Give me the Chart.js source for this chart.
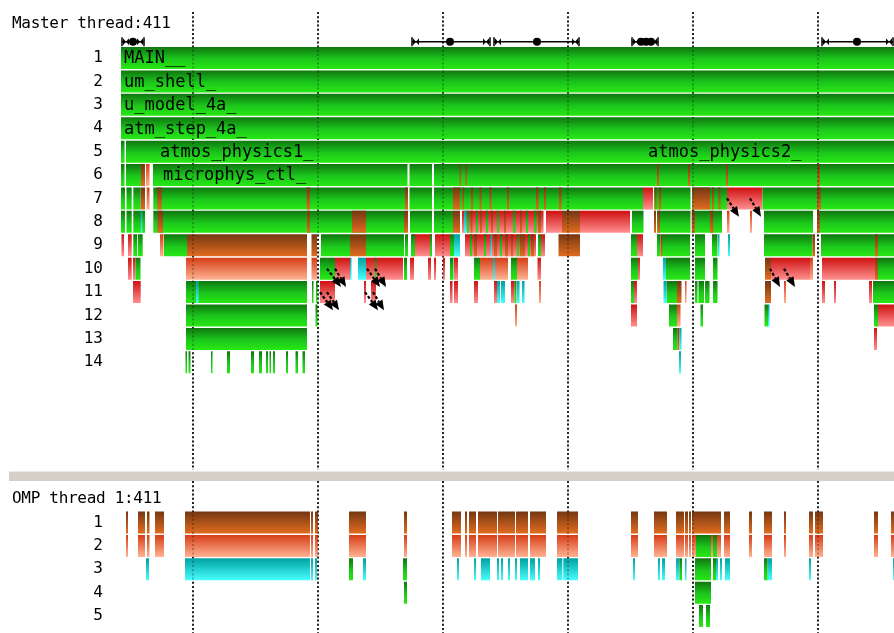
<!DOCTYPE html>
<html><head><meta charset="utf-8">
<script src="https://cdn.jsdelivr.net/npm/chart.js@4.4.1/dist/chart.umd.min.js"></script>
<style>
html,body{margin:0;padding:0;background:#fff;}
#wrap{position:relative;width:894px;height:633px;overflow:hidden;background:#fff;}
canvas{position:absolute;left:0;}
.ttl{position:absolute;left:12px;font-family:'DejaVu Sans Mono',monospace;font-size:16px;line-height:16px;letter-spacing:-0.3px;color:#000;white-space:nowrap;}
#sep{position:absolute;left:9px;top:471px;width:885px;height:10px;background:#d4d0c8;border-top:1px solid #ebe9e4;box-sizing:border-box;}
</style></head>
<body><div id="wrap">
<canvas id="c1" width="894" height="470" style="top:0;width:894px;height:470px"></canvas>
<div id="sep"></div>
<canvas id="c2" width="894" height="152" style="top:481px;width:894px;height:152px"></canvas>
<div class="ttl" style="top:15px">Master thread:411</div>
<div class="ttl" style="top:490px">OMP thread 1:411</div>
</div>
<script>
// ---------- categories / ticks ----------
const masterRows = ['1','2','3','4','5','6','7','8','9','10','11','12','13','14'];
const ompRows = ['1','2','3','4','5'];
const timeMin = 121, timeMax = 894;
const timeGrid = [193, 318, 443, 568, 693, 818];

// ---------- master thread series: [row, start, end] ----------
const masterGreen = [
 [1,121,894],[2,121,894],[3,121,894],[4,121,894],
 [5,121,124.5],[5,126,894],
 [6,121,124.5],[6,126,141],[6,153,407.5],[6,409.5,432],[6,434,894],
 [7,121,125],[7,126.5,131.7],[7,133.3,140.7],[7,153.3,407.5],[7,409.5,432],[7,434,643],[7,654,690.5],[7,692,727],[7,762.5,894],
 [8,121,125],[8,126.5,131.7],[8,133.3,145],[8,153.3,404],[8,410,432],[8,434,453],[8,632,643.5],[8,657,690.5],[8,692,722],[8,764,813],[8,820,894],
 [8,467,469],[8,476,478],[8,486,488],[8,497,499],[8,513,515.5],[8,526,528],[8,534,536.5],
 [9,133.3,137],[9,137.8,142.7],[9,164,187],[9,321,350],[9,366,404],[9,405,408],[9,411,415],[9,430,432],[9,450,454],[9,538,541],[9,631,637],[9,657,660.5],[9,662,690],[9,695,705],[9,712,717.5],[9,764,812.5],[9,821,894],
 [9,470,472],[9,484,486],[9,500,502],[9,517,519],[9,528,530],
 [10,135.5,140.5],[10,320,335],[10,375,376.5],[10,404,407],[10,450,453.5],[10,474,480],[10,511,517],[10,631,638],[10,666,690],[10,695,705],[10,713,717.5],[10,878,894],
 [11,186,307],[11,312,313.5],[11,316,317.5],[11,514.5,516.5],[11,631,634],[11,666.5,677],[11,695,697.5],[11,698.5,704],[11,705,709.5],[11,713,717.5],[11,873,894],
 [12,186,307],[12,315.5,317.5],[12,669,677],[12,700.5,703],[12,764.5,768],[12,874,878],
 [13,186,307],[13,673,677.5],
 [14,185.5,187],[14,188.5,190.5],[14,211,212.5],[14,227,230],[14,251,254],[14,259,262],[14,266,268],[14,269.5,271],[14,273,275],[14,286,288],[14,295.5,298],[14,302.5,305]
];
const masterRed = [
 [7,643,653],[7,727,762.5],
 [8,462,543.5],[8,546,562],[8,580,630],
 [9,121.5,124],[9,128,131.7],[9,412,432],[9,435,450],[9,465,536],[9,541,545],[9,637,643],
 [10,128,131.7],[10,133,135.5],[10,335,350],[10,366,403],[10,410,414],[10,428,431],[10,434,436],[10,443,445],[10,454,458],[10,537.5,541],[10,638,640],[10,771,810],[10,822,875],
 [11,133,140.7],[11,320,335],[11,364,366],[11,371,376],[11,450,452.5],[11,454,458],[11,474,478],[11,494,497],[11,511,514.5],[11,634,637],[11,822,825],[11,834,836],[11,869,872],
 [12,631,637],[12,878,894],
 [13,874,877]
];
const masterBrown = [
 [6,141,145],[6,459.5,461],[6,465.5,467],[6,657,659],[6,688,690],[6,726,728],[6,817.5,820],
 [7,140.7,145],[7,157.3,161.7],[7,306.7,310],[7,405,408],[7,453,460],[7,462.5,464],[7,471,473],[7,479.5,481.5],[7,489.5,491.5],[7,507,509],[7,536,538.5],[7,544,546],[7,559,561.5],[7,655,656.5],[7,659,661],[7,692.5,710],[7,712,714],[7,718.5,720.5],[7,817,821],
 [8,157.5,163],[8,307,310],[8,352,366],[8,404,408],[8,453,460],[8,470.5,472.5],[8,480,482],[8,491,493],[8,504,506],[8,520,522],[8,538,541],[8,562,580],[8,654,656],[8,657.5,660],[8,691.7,695],[8,710,713.3],[8,817,820],
 [9,187,307],[9,311.5,317],[9,350,366],[9,474,477],[9,494,497],[9,505,508],[9,511,513],[9,520,525],[9,531,534],[9,558.5,580],[9,660.5,662.3],[9,812.5,815],[9,875,878],
 [10,765,771],[10,875,878],
 [11,677,681.5],[11,765,771],
 [13,677.5,679.5]
];
const masterOrange = [
 [6,146,149.5],[7,146.7,149.5],[8,727,729.5],[8,750,752],[9,160,163.5],
 [10,186,307],[10,311.5,317],[10,480,493],[10,495,508],[10,517,528],[10,810,813],
 [11,539,541],[11,685,686.5],[11,784,786],
 [12,515,517],[12,677,680.5]
];
const masterCyan = [
 [8,140.7,142.3],[8,464,466.5],
 [9,454,460],[9,490.5,492],[9,718,719.5],[9,728,730],
 [10,350,351.5],[10,358,366],[10,493,495],[10,663,666],
 [11,196,198.5],[11,497,500],[11,501,505],[11,517,519.5],[11,522,524.5],[11,663.5,666.5],
 [12,768,769.5],[13,679.5,681.5],[14,679,681]
];

// ---------- OMP thread 1 series ----------
const ompBrown = [
 [1,126,128],[1,138,145],[1,147,149.5],[1,155,164],[1,185,310],[1,311,313],[1,315,318],[1,349,366],[1,404,407],
 [1,452,461],[1,465,467],[1,469,476],[1,478,497],[1,498,515],[1,516,528],[1,530,546],[1,557,578],[1,631,638],
 [1,654,667],[1,676,684],[1,685,688],[1,689,691],[1,692,721],[1,724,730],[1,749,752],[1,764,772],[1,784,786],
 [1,809,813],[1,815,823],[1,874,878],[1,891,894]
];
const ompOrange = [
 [2,126,128],[2,138,145],[2,147,149.5],[2,155,164],[2,185,310],[2,311,313],[2,315,318],[2,349,366],[2,404,407],
 [2,452,461],[2,465,467],[2,469,476],[2,478,497],[2,498,515],[2,516,528],[2,530,546],[2,557,578],[2,631,638],
 [2,654,667],[2,676,684],[2,685,688],[2,689,691],[2,692,696],[2,711,713],[2,717,721],[2,724,730],[2,749,752],
 [2,764,772],[2,784,786],[2,809,813],[2,815,823],[2,874,878],[2,891,894]
];
const ompGreen = [
 [2,696,711],[2,713,717],
 [3,349,353],[3,403,407],[3,679.5,682],[3,695,711],[3,713,716],[3,764,767.5],
 [4,404,407],[4,695,711],
 [5,699,703],[5,706,710]
];
const ompCyan = [
 [3,146,149],[3,185,310],[3,311,313],[3,315,317],[3,363,366],[3,457,459],[3,474,476],[3,481,490],[3,497,499],
 [3,501,503],[3,508,510],[3,515,517],[3,520,528],[3,530,535],[3,538,540],[3,557,562.3],[3,563.3,578],[3,633,635],
 [3,658,660],[3,662,665],[3,676,679.5],[3,685,686.5],[3,716,718],[3,720,722],[3,725,730],[3,767.5,772],[3,809,811],[3,893,894]
];

// ---------- annotations ----------
const barLabels = [
 ['MAIN__',1,124],['um_shell_',2,124],['u_model_4a_',3,124],['atm_step_4a_',4,124],
 ['atmos_physics1_',5,160],['atmos_physics2_',5,648],['microphys_ctl_',6,163]
];
// message arrows: [row, fromTime, toTime]
const messageArrows = [
 [10,327,341],[10,335,346],[11,320,333],[11,327,339],
 [10,367,380],[10,375,386],[11,365,378],[11,373,384],
 [7,727,739],[7,750,761],[10,770,780],[10,784,795]
];
const markerSpans = [[122,144],[412,490],[494,579],[632,658],[822,893]];
const markerDots = [133,450,537,641,646,651,857];

// ---------- styling ----------
const ROW_FILL = 0.94;
const GREEN = [[0,'#0f760f'],[0.55,'#1cc71c'],[1,'#27e814']];
const BROWN = [[0,'#743712'],[1,'#e26c20']];
const ORANGE = [[0,'#d53d16'],[1,'#ffb292']];
const RED = [[0,'#cf1010'],[1,'#ff9090']];
const CYAN = [[0,'#00a0a0'],[1,'#48ffff']];
const MONO = "'DejaVu Sans Mono', monospace";

function gradient(stops){
  return function(ctx){
    const chart = ctx.chart, ys = chart.scales && chart.scales.y, area = chart.chartArea;
    if (ctx.type !== 'data' || !ys || !area || !ctx.parsed) return stops[stops.length-1][1];
    const yc = ys.getPixelForValue(ctx.parsed.y);
    const half = (area.bottom - area.top) / ys.getLabels().length * ROW_FILL / 2;
    const g = chart.ctx.createLinearGradient(0, yc - half, 0, yc + half);
    stops.forEach(s => g.addColorStop(s[0], s[1]));
    return g;
  };
}
function series(list, stops, order){
  return {
    data: list.map(([r,s,e]) => ({y: String(r), x: [s, e]})),
    backgroundColor: gradient(stops), order: order, grouped: false,
    barPercentage: ROW_FILL, categoryPercentage: 1, borderWidth: 0
  };
}
function dotted(chart, color, top){
  const c = chart.ctx, xs = chart.scales.x;
  c.save(); c.strokeStyle = color; c.lineWidth = 2; c.setLineDash([2,2.2]);
  timeGrid.forEach(v => {
    const x = Math.round(xs.getPixelForValue(v));
    c.beginPath(); c.moveTo(x, top); c.lineTo(x, chart.height); c.stroke();
  });
  c.restore();
}
function drawLabels(chart){
  const c = chart.ctx, xs = chart.scales.x, ys = chart.scales.y;
  c.save(); c.fillStyle = '#000'; c.font = "17px " + MONO; c.textBaseline = 'middle'; c.textAlign = 'left';
  barLabels.forEach(([t,r,v]) => c.fillText(t, xs.getPixelForValue(v), ys.getPixelForValue(r-1) + 1));
  c.restore();
}
function drawArrows(chart){
  const c = chart.ctx, xs = chart.scales.x, ys = chart.scales.y;
  c.save(); c.strokeStyle = '#000'; c.fillStyle = '#000';
  messageArrows.forEach(([r,a,b]) => {
    const x1 = xs.getPixelForValue(a), y1 = ys.getPixelForValue(r-1);
    const x2 = xs.getPixelForValue(b), y2 = ys.getPixelForValue(r-1+0.78);
    const ang = Math.atan2(y2-y1, x2-x1), L = 10, W = 4.2;
    const bx = x2 - L*Math.cos(ang), by = y2 - L*Math.sin(ang);
    c.lineWidth = 2.2; c.setLineDash([3,2]);
    c.beginPath(); c.moveTo(x1,y1); c.lineTo(bx,by); c.stroke();
    c.setLineDash([]);
    c.beginPath(); c.moveTo(x2,y2);
    c.lineTo(bx + W*Math.sin(ang), by - W*Math.cos(ang));
    c.lineTo(bx - W*Math.sin(ang), by + W*Math.cos(ang));
    c.closePath(); c.fill();
  });
  c.restore();
}
function drawMarkers(chart){
  const c = chart.ctx, xs = chart.scales.x, y = chart.chartArea.top - 4.5;
  c.save(); c.strokeStyle = '#000'; c.fillStyle = '#000';
  const bow = (cx) => {
    c.beginPath(); c.moveTo(cx-3,y-3.5); c.lineTo(cx-3,y+3.5); c.lineTo(cx,y); c.closePath(); c.fill();
    c.beginPath(); c.moveTo(cx+3,y-3.5); c.lineTo(cx+3,y+3.5); c.lineTo(cx,y); c.closePath(); c.fill();
  };
  markerSpans.forEach(([a,b]) => {
    const x1 = xs.getPixelForValue(a), x2 = xs.getPixelForValue(b);
    c.lineWidth = 1.5;
    c.beginPath(); c.moveTo(x1,y); c.lineTo(x2,y); c.stroke();
    c.beginPath(); c.moveTo(x1,y-4.5); c.lineTo(x1,y+4.5); c.moveTo(x2,y-4.5); c.lineTo(x2,y+4.5); c.stroke();
    bow(x1+4); bow(x2-4);
  });
  markerDots.forEach(v => { c.beginPath(); c.arc(xs.getPixelForValue(v), y, 4, 0, Math.PI*2); c.fill(); });
  c.restore();
}
function decor(name, gridTop, extra){
  return {
    id: 'decor' + name,
    beforeDatasetsDraw(chart){ dotted(chart, '#303030', gridTop); },
    afterDatasetsDraw(chart){ dotted(chart, 'rgba(0,0,0,0.25)', gridTop); if (extra) extra(chart); }
  };
}
function makeChart(id, rows, datasets, padTop, padBottom, plugin){
  return new Chart(document.getElementById(id), {
    type: 'bar',
    data: {labels: rows, datasets: datasets},
    options: {
      indexAxis: 'y', responsive: false, animation: false, devicePixelRatio: 1, events: [],
      layout: {padding: {left: 0, right: 0, top: padTop, bottom: padBottom}},
      plugins: {legend: {display: false}, tooltip: {enabled: false}, title: {display: false}},
      scales: {
        x: {type: 'linear', min: timeMin, max: timeMax, display: false},
        y: {type: 'category', offset: true, grid: {display: false, drawTicks: false}, border: {display: false},
            ticks: {color: '#000', padding: 18, autoSkip: false, font: {family: MONO, size: 16}},
            afterFit(s){ s.width = 121; s.paddingTop = 0; s.paddingBottom = 0; }}
      }
    },
    plugins: [plugin]
  });
}

makeChart('c1', masterRows, [
  series(masterRed, RED, 6),
  series(masterGreen, GREEN, 5),
  series(masterOrange, ORANGE, 3),
  series(masterBrown, BROWN, 2),
  series(masterCyan, CYAN, 1)
], 46.3, 96, decor('Master', 12, (ch) => { drawLabels(ch); drawArrows(ch); drawMarkers(ch); }));

makeChart('c2', ompRows, [
  series(ompBrown, BROWN, 4),
  series(ompOrange, ORANGE, 3),
  series(ompCyan, CYAN, 2),
  series(ompGreen, GREEN, 1)
], 29.8, 5.2, decor('Omp', 0, null));
</script>
</body></html>
